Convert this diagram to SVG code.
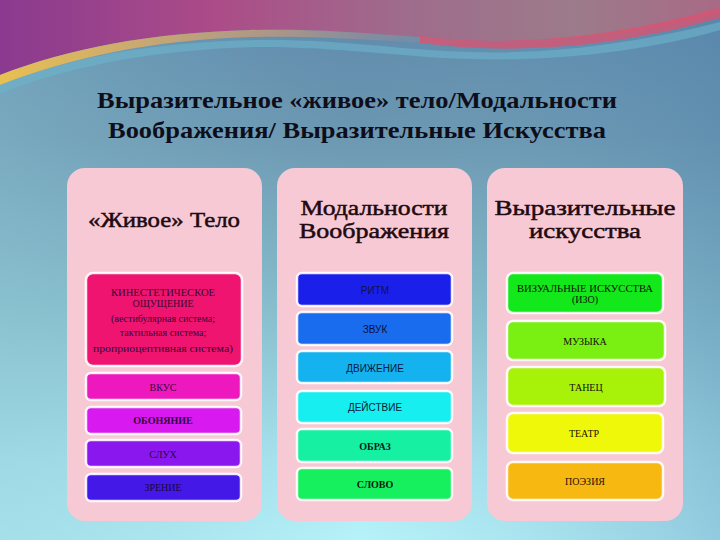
<svg xmlns="http://www.w3.org/2000/svg" width="720" height="540" viewBox="0 0 720 540">
<defs>
<linearGradient id="bg" x1="0" y1="0" x2="0" y2="1">
<stop offset="0" stop-color="#5d88ab"/>
<stop offset="0.25" stop-color="#6c97b1"/>
<stop offset="0.55" stop-color="#86bccb"/>
<stop offset="0.85" stop-color="#aae6f0"/>
<stop offset="1" stop-color="#b6f2fa"/>
</linearGradient>
<linearGradient id="bgside" x1="0" y1="0" x2="1" y2="0">
<stop offset="0" stop-color="#8cc4d2" stop-opacity="0.4"/>
<stop offset="0.5" stop-color="#7ab0c4" stop-opacity="0"/>
<stop offset="1" stop-color="#4f82ad" stop-opacity="0.35"/>
</linearGradient>
<linearGradient id="waveA" x1="0" y1="0" x2="1" y2="0">
<stop offset="0" stop-color="#8a3a8f"/>
<stop offset="0.3" stop-color="#ac4c88"/>
<stop offset="0.55" stop-color="#9f6b8c"/>
<stop offset="0.8" stop-color="#9c7b8a"/>
<stop offset="1" stop-color="#a86a86"/>
</linearGradient>
<linearGradient id="waveO" x1="0" y1="0" x2="1" y2="0">
<stop offset="0" stop-color="#e8c050"/>
<stop offset="0.6" stop-color="#d89a70" stop-opacity="0.6"/>
<stop offset="1" stop-color="#c08090" stop-opacity="0"/>
</linearGradient>
<style>
.panel{fill:#f7c9d5;}
.box{stroke:#ffffff;stroke-width:2.5;stroke-opacity:0.9;}
.lbl{font-family:"Liberation Serif","DejaVu Serif",serif;font-size:10px;text-anchor:middle;dominant-baseline:central;}
.lbls{font-family:"Liberation Sans","DejaVu Sans",sans-serif;font-size:10px;text-anchor:middle;dominant-baseline:central;}
.hdr{font-family:"Liberation Serif","DejaVu Serif",serif;font-size:22px;text-anchor:middle;fill:#1e0a10;stroke:#1e0a10;stroke-width:0.5;}
.title{font-family:"Liberation Serif","DejaVu Serif",serif;font-size:23px;font-weight:bold;text-anchor:middle;fill:#0e0e1a;}
</style>
</defs>
<rect width="720" height="540" fill="url(#bg)"/>
<rect width="720" height="540" fill="url(#bgside)"/>
<g id="wave">
<path d="M0,0 H720 V12 C650,32 560,44 470,40 C390,36 330,28 250,30 C150,33 70,48 0,75 Z" fill="url(#waveA)"/>
<path d="M0,75 C70,48 150,33 250,30 C330,28 390,36 470,40 L470,45 C390,42 330,35 250,37 C150,40 70,58 0,85 Z" fill="url(#waveO)"/>
<path d="M0,85 C70,58 150,42 260,40 C340,39 400,50 470,52 C560,55 650,40 720,22 L720,30 C650,50 560,62 470,59 C400,57 340,47 260,47 C150,50 70,66 0,94 Z" fill="#6db4cc" fill-opacity="0.6"/>
<path d="M420,36 C520,48 620,36 720,8 L720,18 C620,46 520,56 420,43 Z" fill="#e0506e" fill-opacity="0.75"/>
</g>
<g id="title">
<text class="title" x="357" y="108" textLength="520" lengthAdjust="spacingAndGlyphs">Выразительное «живое» тело/Модальности</text>
<text class="title" x="357" y="138" textLength="498" lengthAdjust="spacingAndGlyphs">Воображения/ Выразительные Искусства</text>
</g>
<g id="panel-body">
<rect class="panel" x="67" y="168" width="195" height="353" rx="18"/>
<text class="hdr" x="164" y="227" textLength="152" lengthAdjust="spacingAndGlyphs">«Живое» Тело</text>
</g>
<g id="panel-modal">
<rect class="panel" x="277" y="168" width="195" height="353" rx="18"/>
<text class="hdr" x="374" y="215" textLength="147" lengthAdjust="spacingAndGlyphs">Модальности</text>
<text class="hdr" x="374" y="238" textLength="150" lengthAdjust="spacingAndGlyphs">Воображения</text>
</g>
<g id="panel-arts">
<rect class="panel" x="487" y="168" width="196" height="353" rx="18"/>
<text class="hdr" x="585" y="215" textLength="181" lengthAdjust="spacingAndGlyphs">Выразительные</text>
<text class="hdr" x="585" y="238" textLength="112" lengthAdjust="spacingAndGlyphs">искусства</text>
</g>
<g id="kin">
<rect class="box" x="86" y="273" width="156" height="93" rx="7" fill="#ef1470"/>
<text class="lbl" x="163" y="292" fill="#3a0830" textLength="104" lengthAdjust="spacingAndGlyphs">КИНЕСТЕТИЧЕСКОЕ</text>
<text class="lbl" x="163" y="303" fill="#3a0830">ОЩУЩЕНИЕ</text>
<text class="lbl" x="163" y="318" fill="#3a0830">(вестибулярная система;</text>
<text class="lbl" x="163" y="332" fill="#3a0830">тактильная система;</text>
<text class="lbl" x="163" y="348" fill="#3a0830" textLength="140" lengthAdjust="spacingAndGlyphs">проприоцептивная система)</text>
</g>
<g id="vkus">
<rect class="box" x="86" y="373" width="155" height="27" rx="5" fill="#ee18bf"/>
<text class="lbl" x="163" y="387" fill="#3a0840">ВКУС</text>
</g>
<g id="obon">
<rect class="box" x="86" y="407" width="155" height="27" rx="5" fill="#d81af0"/>
<text class="lbl" x="163" y="420" fill="#300840" font-weight="bold">ОБОНЯНИЕ</text>
</g>
<g id="sluh">
<rect class="box" x="86" y="440" width="155" height="27" rx="5" fill="#8a18ee"/>
<text class="lbl" x="163" y="454" fill="#280840">СЛУХ</text>
</g>
<g id="zren">
<rect class="box" x="86" y="474" width="155" height="27" rx="5" fill="#4418e6"/>
<text class="lbl" x="163" y="487" fill="#1a0838">ЗРЕНИЕ</text>
</g>
<g id="ritm">
<rect class="box" x="297" y="273" width="155" height="33" rx="5" fill="#1a20ea"/>
<text class="lbls" x="375" y="290" fill="#101050">РИТМ</text>
</g>
<g id="zvuk">
<rect class="box" x="297" y="312" width="155" height="33" rx="5" fill="#1a6cee"/>
<text class="lbls" x="375" y="329" fill="#0a1040">ЗВУК</text>
</g>
<g id="dvizh">
<rect class="box" x="297" y="351" width="155" height="32" rx="5" fill="#14b2ee"/>
<text class="lbls" x="375" y="368" fill="#0a1840">ДВИЖЕНИЕ</text>
</g>
<g id="deyst">
<rect class="box" x="297" y="391" width="155" height="32" rx="5" fill="#16eef0"/>
<text class="lbls" x="375" y="407" fill="#0a2030">ДЕЙСТВИЕ</text>
</g>
<g id="obraz">
<rect class="box" x="297" y="429" width="155" height="33" rx="5" fill="#16f0a2"/>
<text class="lbl" x="375" y="446" fill="#0a2018" font-weight="bold">ОБРАЗ</text>
</g>
<g id="slovo">
<rect class="box" x="297" y="468" width="155" height="32" rx="5" fill="#16f05e"/>
<text class="lbl" x="375" y="484" fill="#0a2010" font-weight="bold">СЛОВО</text>
</g>
<g id="vizual">
<rect class="box" x="507" y="273" width="156" height="40" rx="6" fill="#12e81a"/>
<text class="lbl" x="585" y="288" fill="#101008" textLength="136" lengthAdjust="spacingAndGlyphs">ВИЗУАЛЬНЫЕ ИСКУССТВА</text>
<text class="lbl" x="585" y="299" fill="#101008">(ИЗО)</text>
</g>
<g id="muzyka">
<rect class="box" x="507" y="321" width="158" height="39" rx="6" fill="#7af012"/>
<text class="lbl" x="585" y="341" fill="#101008">МУЗЫКА</text>
</g>
<g id="tanec">
<rect class="box" x="507" y="367" width="158" height="39" rx="6" fill="#a8f20a"/>
<text class="lbl" x="586" y="387" fill="#101008">ТАНЕЦ</text>
</g>
<g id="teatr">
<rect class="box" x="507" y="413" width="156" height="40" rx="6" fill="#f0f80a"/>
<text class="lbl" x="584" y="433" fill="#101008">ТЕАТР</text>
</g>
<g id="poezia">
<rect class="box" x="507" y="462" width="156" height="38" rx="6" fill="#f8b812"/>
<text class="lbl" x="585" y="481" fill="#201008">ПОЭЗИЯ</text>
</g>
</svg>
